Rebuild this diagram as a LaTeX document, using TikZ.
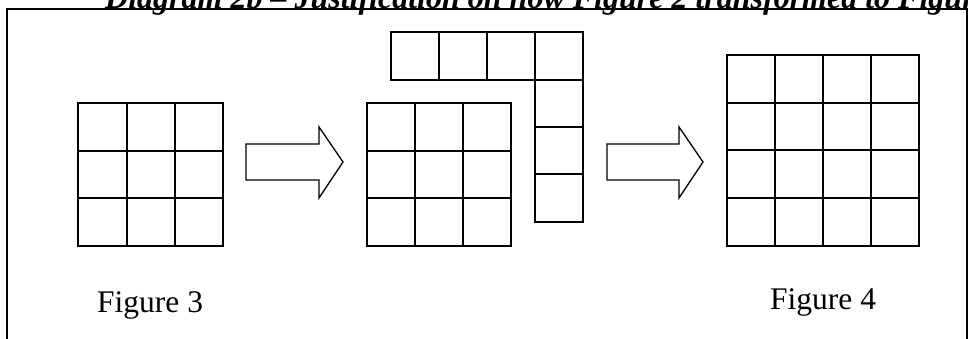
\documentclass[tikz,border=0pt]{standalone}
\usepackage{fontspec}
\setmainfont{Liberation Serif}
\begin{document}
\begin{tikzpicture}[x=1pt,y=-1pt,
  gridline/.style={line width=1.8pt},
  framelin/.style={line width=2pt},
  blockarrow/.style={line width=1.3pt, line join=miter},
  label/.style={anchor=base west, inner sep=0pt, font=\fontsize{31.5}{36}\selectfont}]
\useasboundingbox (0,0) rectangle (968,339);
\clip (0,0) rectangle (968,339);
% frame
\draw[framelin] (7,350) -- (7,9) -- (966.5,9) -- (966.5,350);
% title (cut off by the page, as in the reference)
\node[anchor=base west, inner sep=0pt, font=\fontsize{32}{36}\selectfont\bfseries\itshape] (title) at (105,8.5)
  {Diagram 2b – Justification on how Figure 2 transformed to Figure};
% grid 1 (3x3)
\foreach \i in {0,1,2} \foreach \j in {0,1,2}
  \draw[gridline] ({78.3+\i*48.3},{103.3+\j*47.5}) rectangle ++(48.3,47.5);
% arrow 1
\draw[blockarrow] (246,144) -- (319,144) -- (319,127) -- (343,162) -- (319,198) -- (319,180) -- (246,180) -- cycle;
% grid 2 (3x3)
\foreach \i in {0,1,2} \foreach \j in {0,1,2}
  \draw[gridline] ({366.7+\i*48.1},{103.3+\j*47.5}) rectangle ++(48.1,47.5);
% top strip
\foreach \i in {0,1,2,3}
  \draw[gridline] ({390.7+\i*48},31.7) rectangle ++(48,48.3);
% vertical strip
\foreach \j in {0,1,2}
  \draw[gridline] (534.7,{80+\j*47.2}) rectangle ++(48,47.2);
% arrow 2
\draw[blockarrow] (607,144) -- (679,144) -- (679,127) -- (703,162) -- (679,198) -- (679,180) -- (607,180) -- cycle;
% grid 3 (4x4)
\foreach \i in {0,1,2,3} \foreach \j in {0,1,2,3}
  \draw[gridline] ({726.7+\i*48.15},{55+\j*47.7}) rectangle ++(48.15,47.7);
% labels
\node[label] (fig3) at (97,312) {Figure 3};
\node[label] (fig4) at (770,309) {Figure 4};
\end{tikzpicture}
\end{document}
